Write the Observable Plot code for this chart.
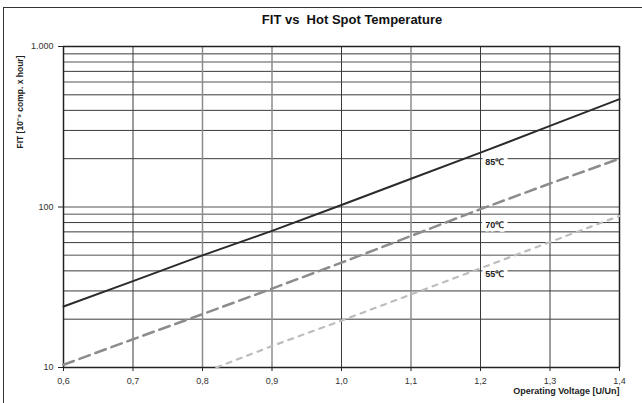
<!DOCTYPE html>
<html>
<head>
<meta charset="utf-8">
<script src="https://cdn.jsdelivr.net/npm/d3@7"></script>
<script src="https://cdn.jsdelivr.net/npm/@observablehq/plot@0.6"></script>
<style>
  html, body { margin: 0; padding: 0; background: white; }
  #wrap { position: relative; width: 642px; height: 403px; overflow: hidden; background: white; font-family: "Liberation Sans", Arial, sans-serif; }
  #title { height: 36px; box-sizing: border-box; padding-top: 12px; padding-left: 62px; text-align: center; font-weight: bold; font-size: 13px; line-height: 16px; color: #111; }
  #border { position: absolute; left: 3px; top: 7px; width: 660px; height: 420px; border-left: 1.5px solid #333; border-top: 1.5px solid #333; pointer-events: none; }
  svg { display: block; }
</style>
</head>
<body>
<div id="wrap">
  <div id="title">FIT vs&nbsp; Hot Spot Temperature</div>
  <div id="chart"></div>
  <div id="border"></div>
</div>
<script>
// ---- data ----
const voltage = [0.6, 0.7, 0.8, 0.9, 1.0, 1.1, 1.2, 1.3, 1.4];
const fit85 = [24, 34.5, 50, 71, 103, 150, 218, 320, 470];
const fit70 = [10.4, 15, 21.5, 31, 45, 66, 97, 140, 200];
const voltage55 = [0.82, 0.9, 1.0, 1.1, 1.2, 1.3, 1.4];
const fit55 = [10, 13.6, 19.6, 28.5, 41.5, 60.5, 88];
const seriesLabels = ["85℃", "70℃", "55℃"];
const labelFit = [200, 80, 40];
const labelVoltage = 1.207;
const yTicks = [10, 100, 1000];
const yTickLabels = ["10", "100", "1.000"];
const xTickLabels = ["0,6", "0,7", "0,8", "0,9", "1,0", "1,1", "1,2", "1,3", "1,4"];
const gridY = [20, 30, 40, 50, 60, 70, 80, 90, 100, 200, 300, 400, 500, 600, 700, 800, 900];
const yTitle = "FIT [10⁻⁹ comp. x hour]";
const xTitle = "Operating Voltage [U/Un]";

// ---- build tables ----
const d85 = voltage.map((v, i) => ({v, fit: fit85[i]}));
const d70 = voltage.map((v, i) => ({v, fit: fit70[i]}));
const d55 = voltage55.map((v, i) => ({v, fit: fit55[i]}));
const labels = seriesLabels.map((t, i) => ({t, v: labelVoltage, fit: labelFit[i]}));

// styling: some grid lines appear lighter/heavier grey in the original
const grayY = new Set([800, 600, 100, 90, 50]);
const grayX = new Set([0.8, 0.9, 1.1]);
const gridX = voltage.slice(1, -1);

const chart = Plot.plot({
  width: 642,
  height: 367,
  marginTop: 10,
  marginBottom: 36,
  marginLeft: 63,
  marginRight: 23,
  style: {fontFamily: "'Liberation Sans', Arial, sans-serif", fontSize: "9px", color: "#333", background: "transparent"},
  x: {domain: [0.6, 1.4]},
  y: {type: "log", domain: [10, 1000]},
  marks: [
    Plot.ruleY(gridY.filter(d => !grayY.has(d)), {stroke: "#3a3a3a", strokeWidth: 1}),
    Plot.ruleY(gridY.filter(d => grayY.has(d)), {stroke: "#8c8c8c", strokeWidth: 1.5}),
    Plot.ruleX(gridX.filter(d => !grayX.has(d)), {stroke: "#3a3a3a", strokeWidth: 1}),
    Plot.ruleX(gridX.filter(d => grayX.has(d)), {stroke: "#8c8c8c", strokeWidth: 1.5}),
    Plot.ruleX([0.6, 1.4], {stroke: "#222", strokeWidth: 1.5}),
    Plot.ruleY([10, 1000], {stroke: "#222", strokeWidth: 1.5}),
    Plot.line(d55, {x: "v", y: "fit", stroke: "#bdbdbd", strokeWidth: 2.2, strokeDasharray: "5,6"}),
    Plot.line(d70, {x: "v", y: "fit", stroke: "#8c8c8c", strokeWidth: 2.5, strokeDasharray: "11,6"}),
    Plot.line(d85, {x: "v", y: "fit", stroke: "#2b2b2b", strokeWidth: 2}),
    Plot.text(labels, {x: "v", y: "fit", text: "t", textAnchor: "start", dy: 3, fontWeight: "bold", fontSize: 9, fill: "#222", stroke: "white", strokeWidth: 7, paintOrder: "stroke"}),
    Plot.axisY({ticks: yTicks, tickFormat: d => yTickLabels[yTicks.indexOf(d)], tickSize: 5, tickPadding: 5, label: null, stroke: "#222"}),
    Plot.axisX({ticks: voltage, tickFormat: d => xTickLabels[voltage.findIndex(v => Math.abs(v - d) < 1e-9)], tickSize: 4, tickPadding: 6, label: null, stroke: "#222"}),
    Plot.text([yTitle], {text: d => d, frameAnchor: "top-left", rotate: -90, textAnchor: "end", dx: -47, dy: 9, fontWeight: "bold", fontSize: 8.5, fill: "#222"}),
    Plot.text([xTitle], {text: d => d, frameAnchor: "bottom-right", textAnchor: "end", dy: 26, fontWeight: "bold", fontSize: 9, fill: "#222"})
  ]
});
document.getElementById("chart").appendChild(chart);
</script>
</body>
</html>
